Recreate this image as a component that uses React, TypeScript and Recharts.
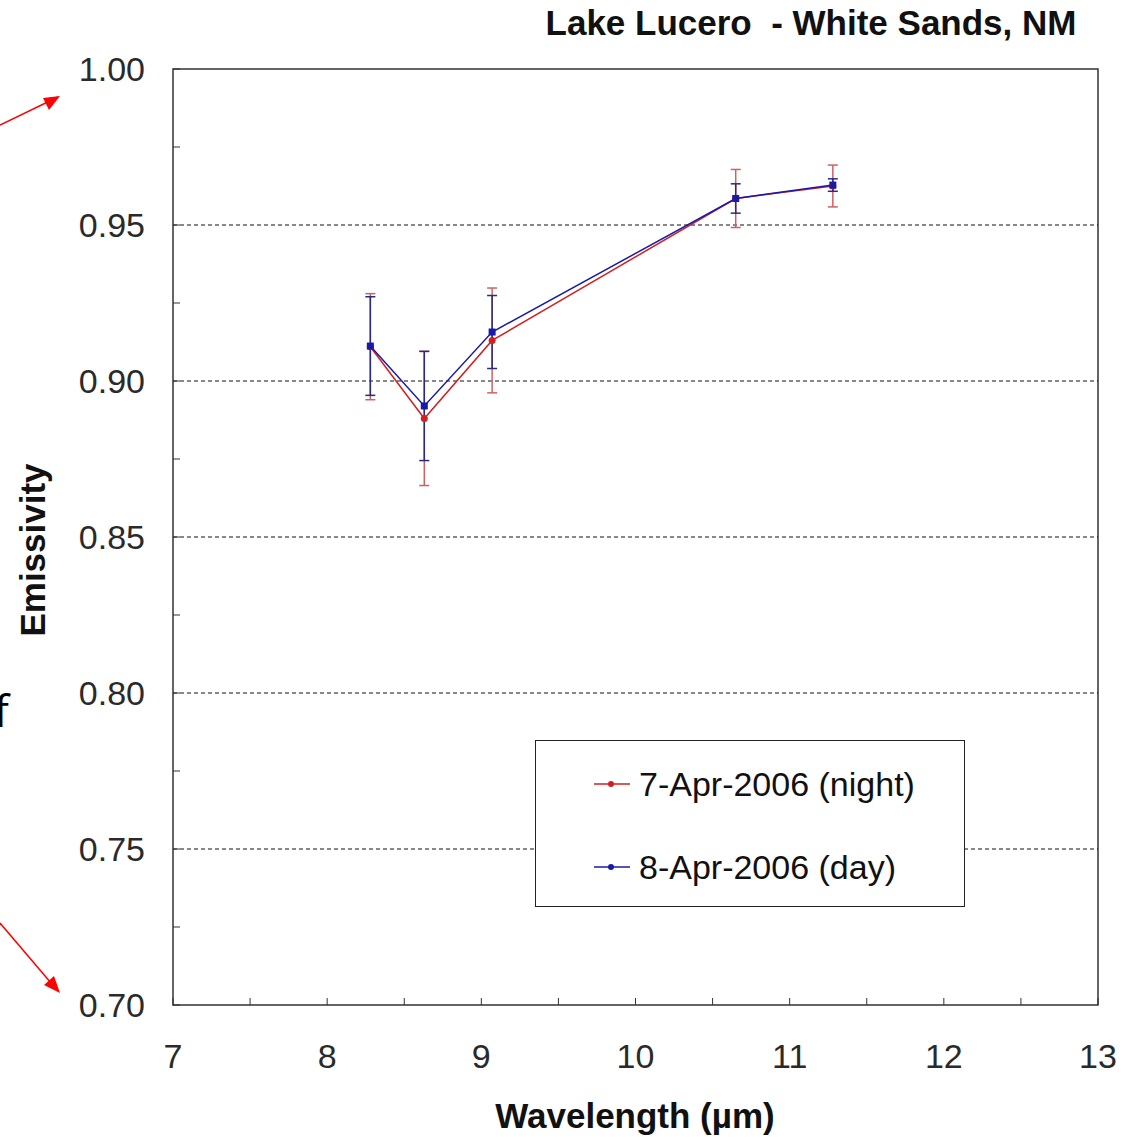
import React from "react";
import { LineChart, Line, XAxis, YAxis, ErrorBar, ReferenceLine, ReferenceArea, Legend } from "recharts";

const wavelengths = [8.28, 8.63, 9.07, 10.65, 11.28];
const nightEmis = [0.911, 0.888, 0.913, 0.9585, 0.9625];
const nightErr = [0.017, 0.0215, 0.0168, 0.0093, 0.0067];
const dayEmis = [0.9112, 0.892, 0.9157, 0.9585, 0.9628];
const dayErr = [0.0158, 0.0175, 0.0117, 0.0047, 0.002];

const nightName = "7-Apr-2006 (night)";
const dayName = "8-Apr-2006 (day)";

const xTicks = [7, 7.5, 8, 8.5, 9, 9.5, 10, 10.5, 11, 11.5, 12, 12.5, 13];
const yTicks = [0.7, 0.725, 0.75, 0.775, 0.8, 0.825, 0.85, 0.875, 0.9, 0.925, 0.95, 0.975, 1.0];
const gridLines = [0.75, 0.8, 0.85, 0.9, 0.95];

const FONT = '"Liberation Sans", Arial, sans-serif';
const RED = "#d02020";
const RED_ERR = "#d06060";
const BLUE = "#1a1aa8";
const BLUE_ERR = "#2a2a80";

const nightData = wavelengths.map((wl, i) => ({ wl, emis: nightEmis[i], err: nightErr[i] }));
const dayData = wavelengths.map((wl, i) => ({ wl, emis: dayEmis[i], err: dayErr[i] }));

function YTick(props: any) {
  const { x, y, payload } = props;
  const v = payload.value as number;
  const major = Math.abs(v * 20 - Math.round(v * 20)) < 1e-6;
  return (
    <g>
      <line x1={x} x2={x + 7} y1={y} y2={y} stroke="#333" strokeWidth={1} />
      {major && (
        <text x={x - 28} y={y + 12} textAnchor="end" fontSize={34} fontFamily={FONT} fill="#2a2a2a">
          {v.toFixed(2)}
        </text>
      )}
    </g>
  );
}

function XTick(props: any) {
  const { x, y, payload } = props;
  const v = payload.value as number;
  return (
    <g>
      <line x1={x} x2={x} y1={y} y2={y - 7} stroke="#333" strokeWidth={1} />
      {Number.isInteger(v) && (
        <text x={x} y={y + 63} textAnchor="middle" fontSize={34} fontFamily={FONT} fill="#2a2a2a">
          {v}
        </text>
      )}
    </g>
  );
}

function LegendBox(props: any) {
  const items = (props.payload || []) as any[];
  return (
    <div
      style={{
        width: 430,
        height: 167,
        boxSizing: "border-box",
        border: "1px solid #222",
        background: "#fff",
        position: "relative",
        fontFamily: FONT,
      }}
    >
      {items.map((it, i) => {
        const top = i === 0 ? 43 : 126;
        return (
          <div key={i} style={{ position: "absolute", left: 0, top: top - 20, height: 40, width: 430 }}>
            <svg width={40} height={40} style={{ position: "absolute", left: 56, top: 0 }}>
              <line x1={2} x2={38} y1={20} y2={20} stroke={it.color} strokeWidth={1.5} />
              <circle cx={19} cy={20} r={3} fill={it.color} />
            </svg>
            <span
              style={{
                position: "absolute",
                left: 103,
                top: 0,
                lineHeight: "40px",
                fontSize: 34,
                color: "#111",
                whiteSpace: "nowrap",
              }}
            >
              {it.value}
            </span>
          </div>
        );
      })}
    </div>
  );
}

const squareDot = (p: any) => (
  <rect key={p.index} x={p.cx - 3.5} y={p.cy - 3.5} width={7} height={7} fill={BLUE} />
);
const circleDot = (p: any) => <circle key={p.index} cx={p.cx} cy={p.cy} r={3.5} fill={RED} />;

export default function App() {
  return (
    <div style={{ position: "absolute", left: 0, top: 0, width: 1136, height: 1137, background: "#fff" }}>
      <LineChart width={1136} height={1137} margin={{ top: 69, right: 38, bottom: 52, left: 113 }}>
        <XAxis
          dataKey="wl"
          type="number"
          domain={[7, 13]}
          ticks={xTicks}
          interval={0}
          height={80}
          tickSize={0}
          tickMargin={0}
          axisLine={false}
          tick={(p: any) => <XTick {...p} />}
          allowDataOverflow
        />
        <YAxis
          type="number"
          domain={[0.7, 1.0]}
          ticks={yTicks}
          interval={0}
          width={60}
          tickSize={0}
          tickMargin={0}
          axisLine={false}
          tick={(p: any) => <YTick {...p} />}
          allowDataOverflow
        />
        {gridLines.map((g) => (
          <ReferenceLine key={g} y={g} stroke="#111" strokeDasharray="4 3" strokeWidth={1} />
        ))}
        <ReferenceArea x1={7} x2={13} y1={0.7} y2={1.0} fill="none" stroke="#333" strokeWidth={1.5} />
        <Line
          data={nightData}
          dataKey="emis"
          name={nightName}
          type="linear"
          stroke={RED}
          strokeWidth={1.5}
          dot={circleDot}
          activeDot={false}
          isAnimationActive={false}
        >
          <ErrorBar dataKey="err" direction="y" width={5} stroke={RED_ERR} strokeWidth={1.5} isAnimationActive={false} />
        </Line>
        <Line
          data={dayData}
          dataKey="emis"
          name={dayName}
          type="linear"
          stroke={BLUE}
          strokeWidth={1.5}
          dot={squareDot}
          activeDot={false}
          isAnimationActive={false}
        >
          <ErrorBar dataKey="err" direction="y" width={5} stroke={BLUE_ERR} strokeWidth={1.5} isAnimationActive={false} />
        </Line>
        <Legend
          layout="vertical"
          align="center"
          verticalAlign="middle"
          wrapperStyle={{ position: "absolute", left: 535, top: 740, width: 430, height: 167 }}
          content={(p: any) => <LegendBox {...p} />}
        />
      </LineChart>
      <svg
        width={1136}
        height={1137}
        style={{ position: "absolute", left: 0, top: 0, pointerEvents: "none" }}
      >
        <text x={811} y={35} textAnchor="middle" fontSize={35} fontWeight="bold" fontFamily={FONT} fill="#111" style={{ whiteSpace: "pre" }}>
          {"Lake Lucero  - White Sands, NM"}
        </text>
        <text
          x={45}
          y={550}
          transform="rotate(-90, 45, 550)"
          textAnchor="middle"
          fontSize={35}
          fontWeight="bold"
          fontFamily={FONT}
          fill="#111"
        >
          Emissivity
        </text>
        <text x={635} y={1128} textAnchor="middle" fontSize={35} fontWeight="bold" fontFamily={FONT} fill="#111">
          Wavelength (µm)
        </text>
        <text x={-6} y={727} fontSize={44} fontFamily='"Open Sans", sans-serif' fill="#000">
          f
        </text>
        <line x1={0} y1={125} x2={58} y2={97} stroke="#ff0000" strokeWidth={1.5} />
        <polygon points="60,96 43,98 49,110" fill="#ff0000" />
        <line x1={0} y1={923} x2={57} y2={990} stroke="#ff0000" strokeWidth={1.5} />
        <polygon points="60,993 44,985 54,976" fill="#ff0000" />
      </svg>
    </div>
  );
}
